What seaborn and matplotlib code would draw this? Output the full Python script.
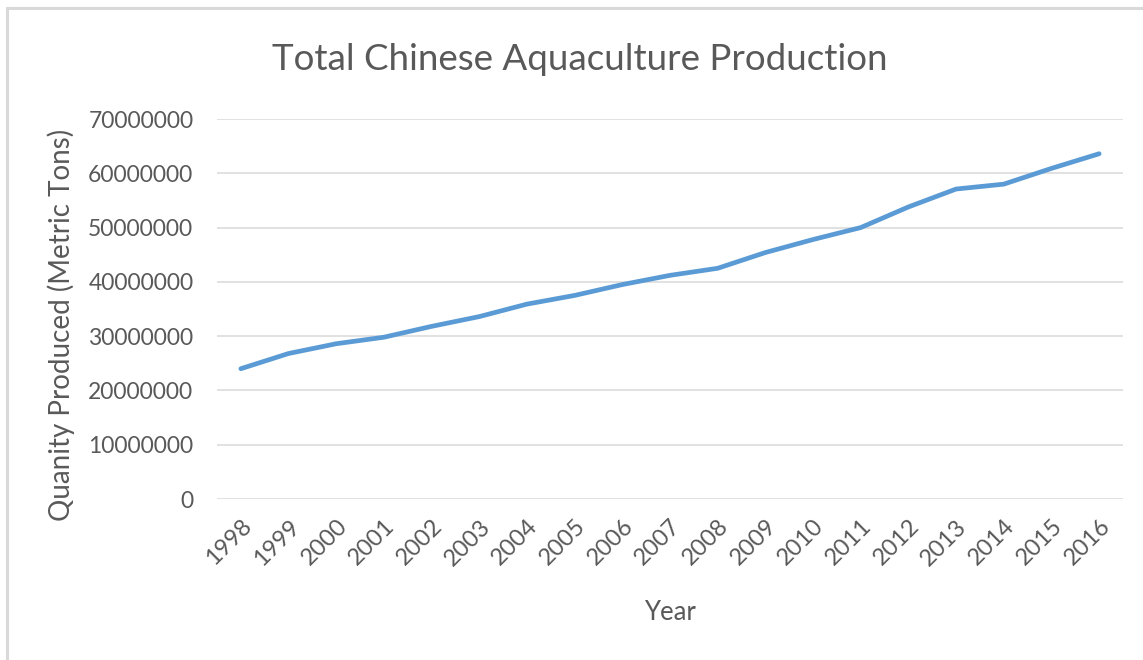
import matplotlib
matplotlib.use("Agg")
import matplotlib.pyplot as plt
import seaborn as sns
import pandas as pd
from matplotlib.lines import Line2D

years = [1998, 1999, 2000, 2001, 2002, 2003, 2004, 2005, 2006, 2007,
         2008, 2009, 2010, 2011, 2012, 2013, 2014, 2015, 2016]
production = [24.0e6, 26.8e6, 28.6e6, 29.8e6, 31.8e6, 33.6e6, 35.9e6, 37.5e6,
              39.5e6, 41.2e6, 42.5e6, 45.4e6, 47.8e6, 50.0e6, 53.8e6, 57.1e6,
              58.0e6, 60.9e6, 63.6e6]
y_ticks = [0, 10000000, 20000000, 30000000, 40000000, 50000000, 60000000, 70000000]

title = "Total Chinese Aquaculture Production"
x_label = "Year"
y_label = "Quanity Produced (Metric Tons)"

sns.set_theme(style="white")
plt.rcParams['font.family'] = ['Lato', 'DejaVu Sans']

text_color = "#595959"
grid_color = "#d9d9d9"
line_color = "#5b9bd5"

df = pd.DataFrame({"Year": years, "Production": production})

fig = plt.figure(figsize=(11.43, 6.6), dpi=100)
ax = fig.add_axes([217 / 1143, 1 - 499 / 660, (1123 - 217) / 1143, (499 - 119) / 660])

sns.lineplot(data=df, x="Year", y="Production", ax=ax, color=line_color,
             linewidth=3.4, solid_capstyle="round", solid_joinstyle="round")

ax.set_xlim(years[0] - 0.5, years[-1] + 0.5)
ax.set_ylim(0, 70000000)
ax.set_yticks(y_ticks)
ax.set_yticklabels([str(v) for v in y_ticks])
ax.set_xticks(years)
ax.set_xticklabels([str(y) for y in years], rotation=45, ha="right",
                   rotation_mode="anchor")

ax.grid(axis="y", color=grid_color, linewidth=1.1)
ax.set_axisbelow(True)
for s in ax.spines.values():
    s.set_visible(False)
ax.tick_params(axis="both", length=0, colors=text_color)
ax.tick_params(axis="y", pad=17, labelsize=16.5)
ax.tick_params(axis="x", pad=12, labelsize=17)

ax.set_xlabel(x_label, fontsize=18.5, color=text_color, labelpad=22)
ax.set_ylabel(y_label, fontsize=20, color=text_color)
ax.yaxis.set_label_coords(-0.157, 0.458)

fig.text(580 / 1143, 1 - 60 / 660, title, fontsize=26.5, color=text_color,
         ha="center", va="center")

# outer chart border (top and left)
fig.add_artist(Line2D([7 / 1143, 1.0], [1 - 7.5 / 660, 1 - 7.5 / 660],
                      transform=fig.transFigure, color=grid_color, linewidth=2.2))
fig.add_artist(Line2D([7 / 1143, 7 / 1143], [0, 1 - 7.5 / 660],
                      transform=fig.transFigure, color=grid_color, linewidth=2.2))

fig.savefig("out.png", dpi=100, facecolor="white")
